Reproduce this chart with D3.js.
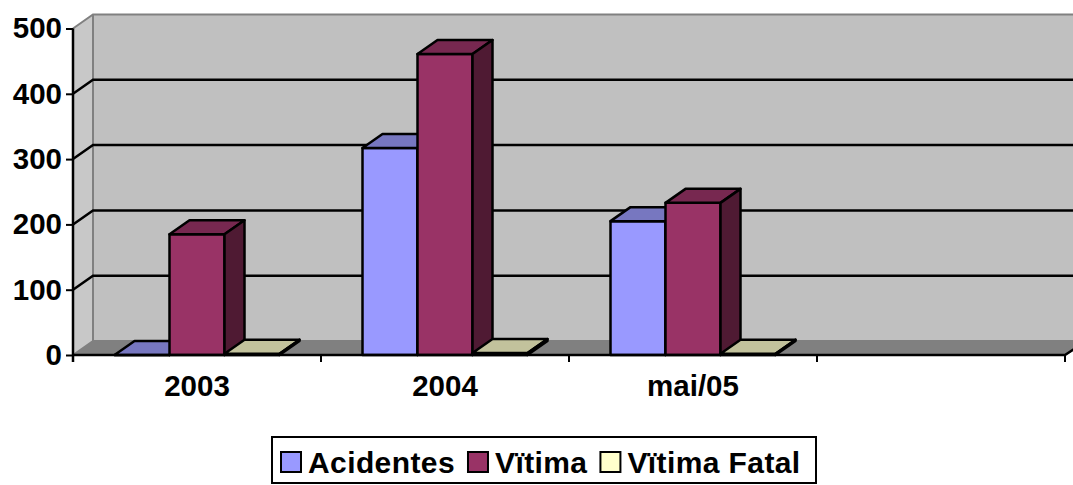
<!DOCTYPE html>
<html lang="pt">
  <head>
    <meta charset="utf-8">
    <title>Acidentes</title>
    <script src="https://d3js.org/d3.v7.js"></script>
    <style>
      body { margin: 0; background: #fff; }
      text { font-family: "Liberation Sans", Arial, sans-serif; font-weight: bold; }
    </style>
  </head>
  <body>
    <script>
    // data
    var categories = ["2003", "2004", "mai/05", ""];
    var series = ["Acidentes", "Vïtima", "Vïtima Fatal"];
    var acidentes = [0, 317, 205];
    var vitima = [185, 461, 233];
    var vitimaFatal = [2, 3, 2];
    var yTicks = [0, 100, 200, 300, 400, 500];

    var frontColors = ["#9999ff", "#993366", "#ffffcc"];
    var topColors = ["#7777c0", "#772850", "#c2c29c"];
    var sideColors = ["#5a5a99", "#4f1a33", "#99997a"];

    var w = 1073, h = 485;
    var dx = 20, dy = -14;   // depth offset of the 3d box
    var fontSize = 29.5;

    var svg = d3.select("body").append("svg")
      .attr("width", w)
      .attr("height", h);

    var yScale = d3.scaleLinear().domain([0, 500]).range([355, 28.5]);
    var xScale = d3.scaleBand().domain(categories).range([73, 1065]);
    var xSub = d3.scaleBand().domain(series).range([41.5, 206.5]);

    var values = [acidentes, vitima, vitimaFatal];
    var y0 = yScale(0);
    var left = xScale.range()[0], right = xScale.range()[1];

    // back wall
    svg.append("rect")
      .attr("x", left + dx).attr("y", yScale(500) + dy)
      .attr("width", w).attr("height", y0 - yScale(500))
      .attr("fill", "#c0c0c0");

    // left wall
    svg.append("polygon")
      .attr("points", [[left, yScale(500)], [left + dx, yScale(500) + dy], [left + dx, y0 + dy], [left, y0]].join(" "))
      .attr("fill", "#c8c8c8");

    // floor
    svg.append("polygon")
      .attr("points", [[left, y0], [left + dx, y0 + dy], [w + 20, y0 + dy], [right, y0]].join(" "))
      .attr("fill", "#808080");

    // wall edges
    svg.append("path")
      .attr("d", "M" + left + "," + yScale(500) + "L" + (left + dx) + "," + (yScale(500) + dy) +
        "L" + w + "," + (yScale(500) + dy) +
        "M" + (left + dx) + "," + (yScale(500) + dy) + "L" + (left + dx) + "," + (y0 + dy) +
        "L" + w + "," + (y0 + dy) +
        "M" + left + "," + y0 + "L" + (left + dx) + "," + (y0 + dy))
      .attr("fill", "none")
      .attr("stroke", "#808080")
      .attr("stroke-width", 2);

    // gridlines, on the left wall and the back wall
    svg.selectAll("path.grid")
      .data(yTicks.filter(d => d > 0 && d < 500))
      .enter()
      .append("path")
      .attr("class", "grid")
      .attr("d", d => "M" + left + "," + yScale(d) + "L" + (left + dx) + "," + (yScale(d) + dy) + "L" + w + "," + (yScale(d) + dy))
      .attr("fill", "none")
      .attr("stroke", "#000")
      .attr("stroke-width", 2.5);

    // bars
    categories.forEach(function (cat, ci) {
      series.forEach(function (s, si) {
        var v = values[si][ci];
        if (v === undefined) return;
        var x0 = xScale(cat) + xSub(s);
        var x1 = x0 + xSub.bandwidth();
        var yv = yScale(v);
        var g = svg.append("g")
          .attr("stroke", "#000")
          .attr("stroke-width", 2.5)
          .attr("stroke-linejoin", "round");
        g.append("polygon")
          .attr("points", [[x0, yv], [x1, yv], [x1, y0], [x0, y0]].join(" "))
          .attr("fill", frontColors[si]);
        g.append("polygon")
          .attr("points", [[x0, yv], [x0 + dx, yv + dy], [x1 + dx, yv + dy], [x1, yv]].join(" "))
          .attr("fill", topColors[si]);
        g.append("polygon")
          .attr("points", [[x1, yv], [x1 + dx, yv + dy], [x1 + dx, y0 + dy], [x1, y0]].join(" "))
          .attr("fill", sideColors[si]);
      });
    });

    // front floor edge and category ticks
    svg.append("path")
      .attr("d", "M" + left + "," + y0 + "L" + right + "," + y0 + "L" + (right + 12) + "," + (y0 - 8))
      .attr("fill", "none")
      .attr("stroke", "#000")
      .attr("stroke-width", 2.5);

    svg.selectAll("line.ctick")
      .data(categories)
      .enter()
      .append("line")
      .attr("class", "ctick")
      .attr("x1", d => xScale(d) + xScale.bandwidth())
      .attr("x2", d => xScale(d) + xScale.bandwidth())
      .attr("y1", y0)
      .attr("y2", y0 + 7)
      .attr("stroke", "#000")
      .attr("stroke-width", 2);

    svg.selectAll("text.cat")
      .data(categories)
      .enter()
      .append("text")
      .attr("class", "cat")
      .attr("x", d => xScale(d) + xScale.bandwidth() / 2)
      .attr("y", 396)
      .attr("text-anchor", "middle")
      .attr("font-size", fontSize)
      .text(d => d);

    // Y axis
    var yAxis = d3.axisLeft(yScale)
      .tickValues(yTicks)
      .tickSize(7)
      .tickSizeOuter(0)
      .tickPadding(4);

    var ya = svg.append("g")
      .attr("transform", "translate(" + left + ",0)")
      .call(yAxis);
    ya.select(".domain")
      .attr("d", "M0," + yScale(500) + "V" + (y0 + 7))
      .attr("stroke-width", 2.5);
    ya.selectAll(".tick line").attr("stroke-width", 2);
    ya.selectAll(".tick text")
      .attr("font-size", fontSize)
      .attr("font-family", null)
      .attr("fill", "#000");

    // legend
    var legend = svg.append("g");
    legend.append("rect")
      .attr("x", 272).attr("y", 437)
      .attr("width", 544).attr("height", 46)
      .attr("fill", "#fff")
      .attr("stroke", "#000")
      .attr("stroke-width", 2);

    var lx = 281;
    series.forEach(function (s, si) {
      legend.append("rect")
        .attr("x", lx).attr("y", 452)
        .attr("width", 20).attr("height", 20)
        .attr("fill", frontColors[si])
        .attr("stroke", "#000")
        .attr("stroke-width", 2);
      var t = legend.append("text")
        .attr("x", lx + 27)
        .attr("y", 473)
        .attr("font-size", 30)
        .attr("letter-spacing", 0.4)
        .text(s);
      lx = lx + 27 + t.node().getComputedTextLength() + 13;
    });
    </script>
  </body>
</html>
